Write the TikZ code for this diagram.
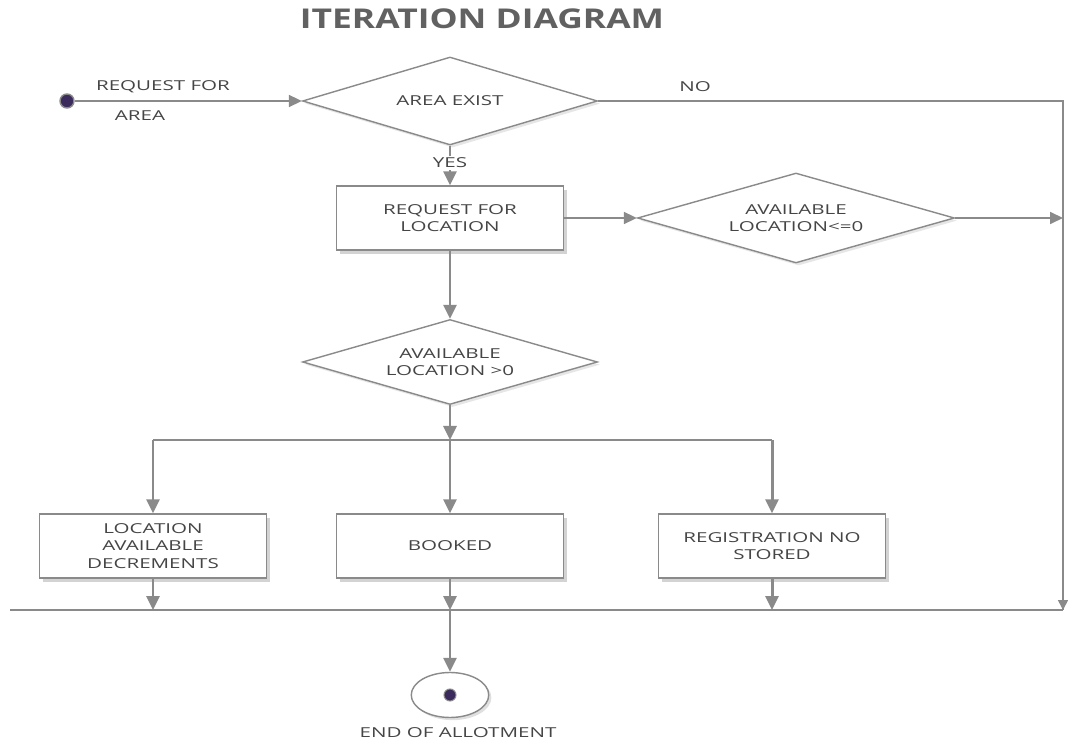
\documentclass[tikz,border=0pt]{standalone}
\usepackage{fontspec}
\setmainfont{Open Sans}
\newfontfamily\diagfont[FakeStretch=1.5]{Open Sans}
\newfontfamily\titlefont[FakeStretch=1.3]{Open Sans}
\usepackage{xcolor}
\definecolor{cLine}{HTML}{8A8A8A}
\definecolor{cText}{HTML}{454545}
\definecolor{cDot}{HTML}{3B2A5C}
\usetikzlibrary{positioning,arrows.meta,shapes.geometric,shadows}
\tikzset{
  node-box/.style={draw=cLine,thick,fill=white,minimum width=4.54cm,
    minimum height=1.28cm,align=center,font=\diagfont\fontsize{7.8}{10}\selectfont,
    text=cText,drop shadow={opacity=0.35,shadow xshift=2pt,shadow yshift=-2pt}},
  node-dec/.style={draw=cLine,thick,fill=white,diamond,aspect=3.4,inner sep=0pt,
    align=center,font=\diagfont\fontsize{7.8}{10}\selectfont,text=cText,
    drop shadow={opacity=0.2,shadow xshift=1.5pt,shadow yshift=-1.5pt}},
  node-label/.style={font=\diagfont\fontsize{7.8}{10}\selectfont,text=cText},
  arrow/.style={-{Triangle[length=2.8mm,width=2.6mm]},line width=1.7pt,draw=cLine},
  arrow-thin/.style={-{Triangle[length=2.6mm,width=2.4mm]},line width=1pt,draw=cLine},
  bar/.style={line width=1.2pt,draw=cLine},
}

\begin{document}
\begin{tikzpicture}[x=0.02cm,y=-0.02cm]
  \useasboundingbox (0,0) rectangle (1068,742);
  \node[font=\titlefont\bfseries\fontsize{15.5}{18}\selectfont,text=cText!85] (title) at (482,19) {ITERATION DIAGRAM};
  % start and first decision
  \node[circle,fill=cDot,draw=cLine,line width=0.8pt,minimum size=0.28cm,inner sep=0pt] (start) at (67,101) {};
  \node[node-dec,minimum width=5.9cm,minimum height=1.76cm] (area) at (450,101) {AREA EXIST};
  \node[node-label] (req-a) at (163,87) {REQUEST FOR};
  \node[node-label] (req-b) at (140,116) {AREA};
  \node[node-label] (no) at (695,87) {NO};
  % location request
  \node[node-box] (loc) at (450,218) {REQUEST FOR\\LOCATION};
  \node[node-dec,minimum width=6.34cm,minimum height=1.8cm] (le) at (796,218) {AVAILABLE\\LOCATION<=0};
  \node[node-dec,minimum width=5.9cm,minimum height=1.7cm] (gt) at (450,362) {AVAILABLE\\LOCATION >0};
  % three actions
  \node[node-box] (dec) at (153,546) {LOCATION\\AVAILABLE\\DECREMENTS};
  \node[node-box] (booked) at (450,546) {BOOKED};
  \node[node-box] (reg) at (772,546) {REGISTRATION NO\\STORED};
  % end
  \node[ellipse,draw=cLine,thick,fill=white,minimum width=1.55cm,minimum height=0.9cm,
    drop shadow={opacity=0.25,shadow xshift=1.5pt,shadow yshift=-1.5pt}] (end) at (450,695) {};
  \node[circle,fill=cDot,draw=cLine,line width=0.6pt,minimum size=0.24cm,inner sep=0pt] (end-dot) at (end.center) {};
  \node[node-label] (end-txt) at (458,733) {END OF ALLOTMENT};
  % fork / join points
  \coordinate (fork) at (450,440);
  \coordinate (fork-l) at (153,440);
  \coordinate (fork-r) at (772,440);
  \coordinate (join) at (450,610);
  \coordinate (join-l) at (10,610);
  \coordinate (join-r) at (1063,610);
  \coordinate (no-c) at (1063,101);

  \draw[arrow-thin] (start) -- (area.west);
  \draw[bar] (area.east) -- (no-c) -- (join-r);
  \draw[-{Triangle[length=2mm,width=2mm]},line width=1pt,draw=cLine] (no-c |- join-r) ++(0,-12) -- (join-r);
  \draw[arrow] (area.south) -- (loc.north);
  \node[node-label,fill=white,inner sep=1pt] (yes) at (450,163) {YES};
  \draw[arrow-thin] (loc.east) -- (le.west);
  \draw[arrow-thin] (le.east) -- (le.east -| join-r);
  \draw[arrow] (loc.south) -- (gt.north);
  \draw[arrow] (gt.south) -- (fork);
  \draw[bar] (fork-l) -- (fork-r);
  \draw[arrow] (fork-l) -- (dec.north);
  \draw[arrow] (fork) -- (booked.north);
  \draw[arrow] (fork-r) -- (reg.north);
  \draw[bar] (join-l) -- (join-r);
  \draw[arrow] (dec.south) -- (dec.south |- join);
  \draw[arrow] (booked.south) -- (join);
  \draw[arrow] (reg.south) -- (reg.south |- join);
  \draw[arrow] (join) -- (end.north);
\end{tikzpicture}
\end{document}
